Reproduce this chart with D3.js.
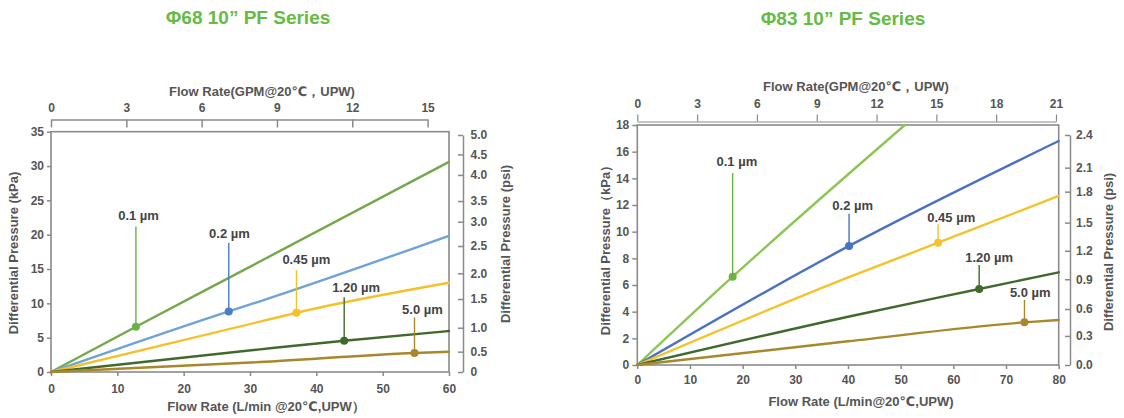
<!DOCTYPE html>
<html><head><meta charset="utf-8">
<script src="https://cdn.jsdelivr.net/npm/d3@7"></script>
<style>
body{margin:0;background:#fff}
svg{display:block}
text{font-family:"Liberation Sans",Arial,"DejaVu Sans",sans-serif}
</style>
</head><body>
<svg id="c" width="1124" height="418"></svg>
<script>
// ---------- DATA ----------
const LPM_PER_GPM = 3.785;
const seriesLabels = ["0.1 µm", "0.2 µm", "0.45 µm", "1.20 µm", "5.0 µm"];

// Φ68 chart: [flow L/min, dp kPa]
const phi68_01  = [[0,0],[12.8,6.6],[31.5,16.1],[60,30.6]];
const phi68_02  = [[0,0],[26.8,8.83],[31.5,10.3],[60,19.85]];
const phi68_045 = [[0,0],[31.5,7.33],[37.0,8.63],[60,13.0]];
const phi68_120 = [[0,0],[31.5,3.3],[44.2,4.56],[60,5.97]];
const phi68_50  = [[0,0],[31.5,1.45],[54.8,2.77],[60,2.95]];
const phi68Markers = [[12.8,6.6],[26.8,8.83],[37.0,8.63],[44.2,4.56],[54.8,2.77]];
const phi68LabelAt = [[13.2,22.1],[26.9,19.5],[38.5,15.7],[46.0,11.6],[56.0,8.45]];
const phi68LeaderTop = [21.2,18.8,14.85,10.9,7.95];
const phi68FlowTicks = [0,10,20,30,40,50,60];
const phi68DpTicks = [0,5,10,15,20,25,30,35];
const phi68GpmTicks = [0,3,6,9,12,15];
const phi68PsiTicks = [0,0.5,1.0,1.5,2.0,2.5,3.0,3.5,4.0,4.5,5.0];
const phi68PsiAtKpa = [0,2.96,6.45,10.63,14.37,18.35,21.89,24.9,28.7,31.7,34.52];

// Φ83 chart
const phi83_01  = [[0,0],[18.1,6.62],[50.8,18]];
const phi83_02  = [[0,0],[40.2,8.93],[80,16.8]];
const phi83_045 = [[0,0],[40.4,6.62],[57.1,9.17],[80,12.68]];
const phi83_120 = [[0,0],[40,3.62],[64.9,5.7],[80,6.95]];
const phi83_50  = [[0,0],[40,1.78],[73.5,3.2],[80,3.38]];
const phi83Markers = [[18.1,6.62],[40.2,8.93],[57.1,9.17],[64.9,5.7],[73.5,3.2]];
const phi83LabelAt = [[18.9,14.95],[40.9,11.63],[59.6,10.75],[66.8,7.75],[74.6,5.08]];
const phi83LeaderTop = [14.4,11.35,10.55,7.5,4.88];
const phi83FlowTicks = [0,10,20,30,40,50,60,70,80];
const phi83DpTicks = [0,2,4,6,8,10,12,14,16,18];
const phi83GpmTicks = [0,3,6,9,12,15,18,21];
const phi83PsiTicks = [0,0.3,0.6,0.9,1.2,1.5,1.8,2.1,2.4];
const phi83PsiAtKpa = [0,2.18,4.2,6.43,8.57,10.68,13.0,14.8,17.25];

// ---------- STYLE ----------
const AX = "#8a8a8a", TXT = "#555", LBL = "#444";
const phi68Colors = ["#74a84c","#6fa3d8","#f5c12b","#41692c","#a8882a"];
const phi68DotColors = ["#6ab344","#4a7cc8","#f5c12b","#41692c","#a8882a"];
const phi83Colors = ["#8cc654","#4b71c1","#f4c22b","#41692c","#a8882a"];
const phi83DotColors = ["#6ab344","#4b71c1","#f4c22b","#41692c","#a8882a"];

const svg = d3.select("#c");

function styleAxis(sel, w) {
  sel.selectAll("path").attr("stroke", AX).attr("stroke-width", w || 1.5);
  sel.selectAll("line").attr("stroke", AX).attr("stroke-width", w || 1.5);
  sel.selectAll("text").attr("fill", TXT).attr("font-weight", "bold")
     .attr("font-size", 12).attr("font-family", '"Liberation Sans",Arial,sans-serif');
}

function drawChart(c) {
  const g = svg.append("g");
  const x = d3.scaleLinear().domain([0, c.xMax]).range([c.x0, c.x1]);
  const y = d3.scaleLinear().domain([0, c.yMax]).range([c.y0, c.y1]);

  // title
  g.append("text").attr("x", c.titleX).attr("y", c.titleY).attr("text-anchor", "middle")
    .attr("font-family", '"Noto Sans","Open Sans",sans-serif').attr("font-weight", "bold")
    .attr("font-size", 19).attr("fill", "#66bb44").text(c.title);

  // frame
  g.append("rect").attr("x", c.x0).attr("y", c.y1).attr("width", c.x1 - c.x0)
    .attr("height", c.y0 - c.y1).attr("fill", "none").attr("stroke", AX).attr("stroke-width", 1.6);

  // bottom axis
  const ab = g.append("g").attr("transform", `translate(0,${c.y0})`)
    .call(d3.axisBottom(x).tickValues(c.flowTicks).tickSize(4).tickSizeOuter(0)
      .tickPadding(c.bottomPad).tickFormat(d3.format("d")));
  ab.select(".domain").remove();
  styleAxis(ab);

  // left axis
  const al = g.append("g").attr("transform", `translate(${c.x0},0)`)
    .call(d3.axisLeft(y).tickValues(c.dpTicks).tickSize(c.leftTick).tickSizeOuter(0)
      .tickPadding(3).tickFormat(d3.format("d")));
  al.select(".domain").remove();
  styleAxis(al);

  // top GPM axis
  const gx = d3.scaleLinear().domain([0, c.gpmMax]).range([x(0), x(c.gpmMax * LPM_PER_GPM)]);
  const at = g.append("g").attr("transform", `translate(0,${c.topY})`)
    .call(d3.axisTop(gx).tickValues(c.gpmTicks).tickSize(c.topTick).tickSizeOuter(0)
      .tickPadding(c.topPad).tickFormat(d3.format("d")));
  styleAxis(at, c.topW);

  // right psi axis (piecewise, as drawn)
  const py = d3.scaleLinear().domain(c.psiTicks).range(c.psiAtKpa.map(v => y(v)));
  const ar = g.append("g").attr("transform", `translate(${c.psiX},0)`)
    .call(d3.axisRight(py).tickValues(c.psiTicks).tickSize(-5).tickSizeOuter(0)
      .tickPadding(c.psiPad).tickFormat(c.psiFormat));
  styleAxis(ar);

  // axis titles
  const title = (txt, tx, ty, rot) => {
    const t = g.append("text").attr("text-anchor", "middle").attr("font-weight", "bold")
      .attr("font-size", 13).attr("fill", TXT).text(txt);
    if (rot) t.attr("transform", `translate(${tx},${ty}) rotate(-90)`);
    else t.attr("x", tx).attr("y", ty);
  };
  title(c.bottomTitle, c.bottomTitleX, c.bottomTitleY);
  title(c.topTitle, c.topTitleX, c.topTitleY);
  title(c.leftTitle, c.leftTitleX, c.leftTitleY, true);
  title(c.rightTitle, c.rightTitleX, c.rightTitleY, true);

  // lines
  const line = d3.line().x(d => x(d[0])).y(d => y(d[1])).curve(d3.curveMonotoneX);
  c.series.forEach((s, i) => {
    g.append("path").datum(s).attr("d", line).attr("fill", "none")
      .attr("stroke", c.colors[i]).attr("stroke-width", 2.4).attr("stroke-linecap", "round");
  });

  // annotations
  c.markers.forEach((m, i) => {
    g.append("line").attr("x1", x(m[0])).attr("x2", x(m[0]))
      .attr("y1", y(c.leaderTop[i])).attr("y2", y(m[1]))
      .attr("stroke", c.dotColors[i]).attr("stroke-width", 1.4);
    g.append("circle").attr("cx", x(m[0])).attr("cy", y(m[1])).attr("r", 4)
      .attr("fill", c.dotColors[i]);
    g.append("text").attr("x", x(c.labelAt[i][0])).attr("y", y(c.labelAt[i][1]))
      .attr("text-anchor", "middle").attr("font-weight", "bold").attr("font-size", 13)
      .attr("fill", LBL).text(seriesLabels[i]);
  });
}

drawChart({
  title: "Φ68 10”  PF Series", titleX: 248, titleY: 24,
  xMax: 60, yMax: 35, x0: 51, x1: 449, y0: 372, y1: 131.7,
  flowTicks: phi68FlowTicks, dpTicks: phi68DpTicks, bottomPad: 8.5, leftTick: 4,
  gpmMax: 15, gpmTicks: phi68GpmTicks, topY: 119.5, topTick: -8, topPad: 8, topW: 1.5,
  psiTicks: phi68PsiTicks, psiAtKpa: phi68PsiAtKpa, psiX: 463, psiPad: 7.5,
  psiFormat: d => d === 0 ? "0" : d3.format(".1f")(d),
  bottomTitle: "Flow Rate (L/min @20℃,UPW）", bottomTitleX: 266, bottomTitleY: 411,
  topTitle: "Flow Rate(GPM@20℃，UPW)", topTitleX: 262, topTitleY: 96,
  leftTitle: "Differential Pressure (kPa)", leftTitleX: 18, leftTitleY: 253,
  rightTitle: "Differential Pressure (psi)", rightTitleX: 510, rightTitleY: 244,
  series: [phi68_01, phi68_02, phi68_045, phi68_120, phi68_50],
  colors: phi68Colors, dotColors: phi68DotColors,
  markers: phi68Markers, labelAt: phi68LabelAt, leaderTop: phi68LeaderTop
});

drawChart({
  title: "Φ83 10”  PF Series", titleX: 843, titleY: 25,
  xMax: 80, yMax: 18, x0: 637.3, x1: 1058.7, y0: 365, y1: 125,
  flowTicks: phi83FlowTicks, dpTicks: phi83DpTicks, bottomPad: 6, leftTick: 5,
  gpmMax: 21, gpmTicks: phi83GpmTicks, topY: 121.5, topTick: 7, topPad: 7, topW: 1.2,
  psiTicks: phi83PsiTicks, psiAtKpa: phi83PsiAtKpa, psiX: 1070, psiPad: 6,
  psiFormat: d3.format(".1f"),
  bottomTitle: "Flow Rate (L/min@20℃,UPW)", bottomTitleX: 861, bottomTitleY: 406,
  topTitle: "Flow Rate(GPM@20℃，UPW)", topTitleX: 856, topTitleY: 91,
  leftTitle: "Differential Pressure（kPa）", leftTitleX: 610, leftTitleY: 247,
  rightTitle: "Differential Pressure (psi)", rightTitleX: 1113, rightTitleY: 252,
  series: [phi83_01, phi83_02, phi83_045, phi83_120, phi83_50],
  colors: phi83Colors, dotColors: phi83DotColors,
  markers: phi83Markers, labelAt: phi83LabelAt, leaderTop: phi83LeaderTop
});
</script>
</body></html>
